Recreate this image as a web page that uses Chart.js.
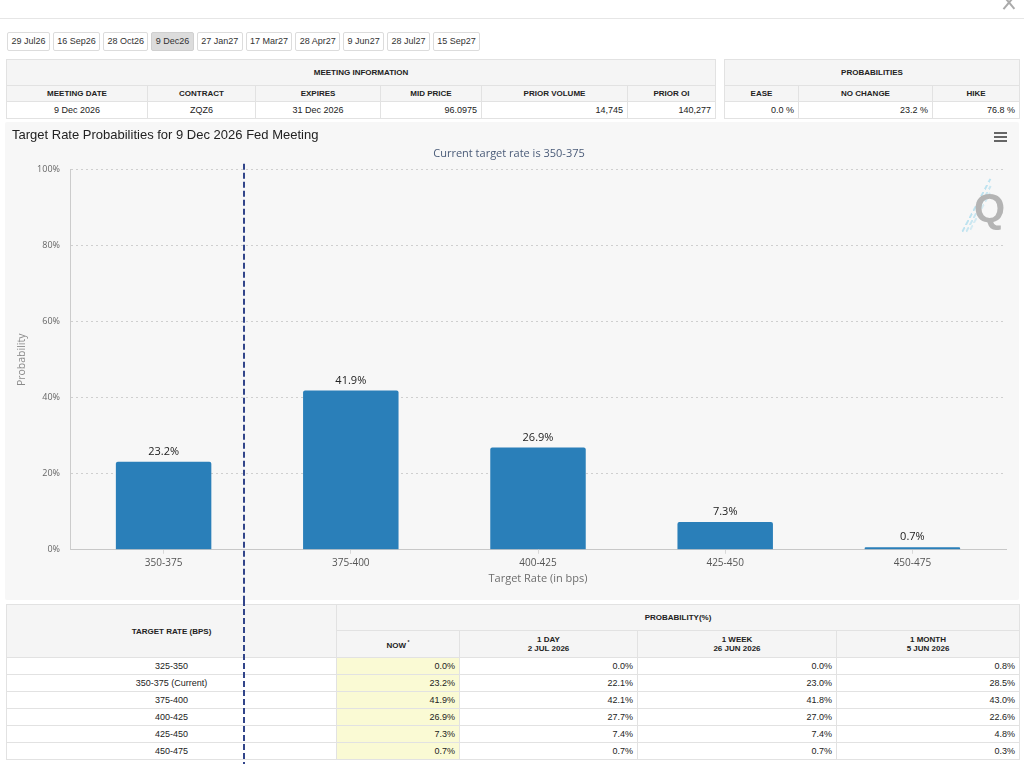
<!DOCTYPE html>
<html>
<head>
<meta charset="utf-8">
<script src="https://cdn.jsdelivr.net/npm/chart.js@4.4.1/dist/chart.umd.min.js"></script>
<style>
  html, body { margin:0; padding:0; background:#fff; width:1024px; height:764px; overflow:hidden; font-family: Arial, "Liberation Sans", sans-serif; color:#333; }
  .topline { position:absolute; left:0; top:18px; width:1024px; height:1px; background:#e6e6e6; }
  .close { position:absolute; left:1002px; top:-6px; width:14px; height:14px; }
  .close:before, .close:after { content:""; position:absolute; left:6px; top:0; width:1.5px; height:17px; background:#aaa; }
  .close:before { transform:rotate(40deg); }
  .close:after { transform:rotate(-40deg); }
  .tabs { position:absolute; left:7px; top:32px; display:flex; gap:3px; }
  .tab { line-height:17px; border:1px solid #dcdcdc; border-radius:2px; padding:0 3.4px; font-size:9px; color:#333; background:#fff; box-sizing:border-box; height:19px; }
  .tab.sel { background:#dcdcdc; border-color:#d0d0d0; }
  table { border-collapse:collapse; table-layout:fixed; position:absolute; font-family: Arial, "Liberation Sans", sans-serif; }
  td, th { border:1px solid #e2e2e2; padding:0 4px; font-size:9px; color:#222; overflow:hidden; white-space:nowrap; }
  th { font-weight:bold; font-size:8px; background:#f5f5f5; text-align:center; }
  td.c { text-align:center; }
  td.r { text-align:right; }
  td.now { background:#fafad4; }
  .chartbox { position:absolute; left:5px; top:122px; width:1014px; height:478px; background:#f7f7f7; border-radius:2px; }
  .menu { position:absolute; left:994px; top:132px; width:13px; height:2px; background:#666; box-shadow:0 4px 0 #666, 0 8px 0 #666; }
  .wm { position:absolute; left:974px; top:186px; font:bold 40px Arial, "Liberation Sans", sans-serif; color:#b4b4b4; }
  .streak { position:absolute; height:1.5px; background:repeating-linear-gradient(to right, #bde2ef 0 5px, transparent 5px 8px); transform:rotate(-62deg); transform-origin:left center; }
  .vline { position:absolute; width:2px; background:repeating-linear-gradient(to bottom, #32458a 0 6px, transparent 6px 9px); z-index:5; }
</style>
</head>
<body>
<div class="topline"></div>
<div class="close"></div>
<div class="tabs" id="tabs"></div>

<table id="meet" style="left:6px; top:59px; width:709px;">
  <colgroup><col style="width:141px"><col style="width:108px"><col style="width:125px"><col style="width:101px"><col style="width:146px"><col style="width:88px"></colgroup>
  <tr style="height:26px"><th colspan="6">MEETING INFORMATION</th></tr>
  <tr style="height:16px" id="meetHead"></tr>
  <tr style="height:17px" id="meetRow"></tr>
</table>

<table id="probs" style="left:724px; top:59px; width:295px;">
  <colgroup><col style="width:74px"><col style="width:134px"><col style="width:87px"></colgroup>
  <tr style="height:26px"><th colspan="3">PROBABILITIES</th></tr>
  <tr style="height:16px" id="probHead"></tr>
  <tr style="height:17px" id="probRow"></tr>
</table>

<div class="chartbox"><canvas id="c"></canvas></div>
<div class="menu"></div>
<div class="streak" style="left:962px; top:231px; width:60px;"></div>
<div class="streak" style="left:966px; top:231px; width:52px; opacity:.8"></div>
<div class="streak" style="left:970px; top:229px; width:42px; opacity:.6"></div>
<div class="wm">Q</div>

<table id="rates" style="left:6px; top:604px; width:1013px;">
  <colgroup><col style="width:330px"><col style="width:123px"><col style="width:178px"><col style="width:199px"><col style="width:183px"></colgroup>
  <tr style="height:26px"><th rowspan="2">TARGET RATE (BPS)</th><th colspan="4">PROBABILITY(%)</th></tr>
  <tr style="height:27px" id="rateHead"></tr>
</table>

<div class="vline" id="vline"></div>

<script>
// ---------- data ----------
const meetingTabs = ['29 Jul26','16 Sep26','28 Oct26','9 Dec26','27 Jan27','17 Mar27','28 Apr27','9 Jun27','28 Jul27','15 Sep27'];
const selectedTab = '9 Dec26';

const meetingHeaders = ['MEETING DATE','CONTRACT','EXPIRES','MID PRICE','PRIOR VOLUME','PRIOR OI'];
const meetingValues = ['9 Dec 2026','ZQZ6','31 Dec 2026','96.0975','14,745','140,277'];
const probHeaders = ['EASE','NO CHANGE','HIKE'];
const probValues = ['0.0 %','23.2 %','76.8 %'];

const chartTitle = 'Target Rate Probabilities for 9 Dec 2026 Fed Meeting';
const chartSubtitle = 'Current target rate is 350-375';
const categories = ['350-375','375-400','400-425','425-450','450-475'];
const probabilities = [23.2, 41.9, 26.9, 7.3, 0.7];
const yTickValues = [0, 20, 40, 60, 80, 100];
const currentLineValue = 0.43;

const periodHeaders = [['NOW', ''], ['1 DAY','2 JUL 2026'], ['1 WEEK','26 JUN 2026'], ['1 MONTH','5 JUN 2026']];
const tableRates = ['325-350','350-375 (Current)','375-400','400-425','425-450','450-475'];
const probNow    = [0.0, 23.2, 41.9, 26.9, 7.3, 0.7];
const prob1Day   = [0.0, 22.1, 42.1, 27.7, 7.4, 0.7];
const prob1Week  = [0.0, 23.0, 41.8, 27.0, 7.4, 0.7];
const prob1Month = [0.8, 28.5, 43.0, 22.6, 4.8, 0.3];

// ---------- html parts ----------
const tabs = document.getElementById('tabs');
meetingTabs.forEach(t => { const d = document.createElement('div'); d.className = 'tab' + (t === selectedTab ? ' sel' : ''); d.textContent = t; tabs.appendChild(d); });

document.getElementById('meetHead').innerHTML = meetingHeaders.map(h => '<th>' + h + '</th>').join('');
document.getElementById('meetRow').innerHTML = meetingValues.map((v, i) => '<td class="' + (i < 3 ? 'c' : 'r') + '">' + v + '</td>').join('');
document.getElementById('probHead').innerHTML = probHeaders.map(h => '<th>' + h + '</th>').join('');
document.getElementById('probRow').innerHTML = probValues.map(v => '<td class="r">' + v + '</td>').join('');

document.getElementById('rateHead').innerHTML = periodHeaders.map((p, i) =>
  '<th>' + p[0] + (i === 0 ? '<sup style="font-size:5px"> *</sup>' : '<br>' + p[1]) + '</th>').join('');
const rates = document.getElementById('rates');
tableRates.forEach((r, i) => {
  const tr = document.createElement('tr');
  tr.style.height = '17px';
  tr.innerHTML = '<td class="c">' + r + '</td>' +
    '<td class="r now">' + probNow[i].toFixed(1) + '%</td>' +
    '<td class="r">' + prob1Day[i].toFixed(1) + '%</td>' +
    '<td class="r">' + prob1Week[i].toFixed(1) + '%</td>' +
    '<td class="r">' + prob1Month[i].toFixed(1) + '%</td>';
  rates.appendChild(tr);
});

// ---------- chart ----------
const tickFont = '"Open Sans", "DejaVu Sans", sans-serif';

const dataLabels = {
  id: 'dataLabels',
  afterDatasetsDraw(chart) {
    const ctx = chart.ctx;
    const meta = chart.getDatasetMeta(0);
    ctx.save();
    ctx.font = '11px ' + tickFont;
    ctx.fillStyle = '#222';
    ctx.textAlign = 'center';
    ctx.textBaseline = 'middle';
    meta.data.forEach((bar, i) => {
      ctx.fillText(probabilities[i].toFixed(1) + '%', bar.x, bar.y - 10);
    });
    ctx.restore();
  }
};

const currentLine = {
  id: 'currentLine',
  afterDatasetsDraw(chart) {
    const xs = chart.scales.x;
    const p0 = xs.getPixelForValue(0), p1 = xs.getPixelForValue(1);
    const x = Math.round(p0 + currentLineValue * (p1 - p0));
    const ctx = chart.ctx;
    ctx.save();
    ctx.strokeStyle = '#32458a';
    ctx.lineWidth = 2;
    ctx.setLineDash([6, 3]);
    ctx.beginPath();
    ctx.moveTo(x, chart.chartArea.top - 6);
    ctx.lineTo(x, chart.height);
    ctx.stroke();
    ctx.restore();
    const box = chart.canvas.parentNode;
    const v = document.getElementById('vline');
    v.style.left = (box.offsetLeft + x - 1) + 'px';
    v.style.top = (box.offsetTop + chart.height) + 'px';
    v.style.height = (764 - box.offsetTop - chart.height) + 'px';
  }
};

new Chart(document.getElementById('c'), {
  type: 'bar',
  data: {
    labels: categories,
    datasets: [{
      data: probabilities,
      backgroundColor: '#2a7fb9',
      borderRadius: { topLeft: 2, topRight: 2 },
      borderSkipped: 'bottom',
      barPercentage: 0.51,
      categoryPercentage: 1.0
    }]
  },
  options: {
    responsive: true,
    maintainAspectRatio: false,
    animation: false,
    events: [],
    layout: { padding: { left: 7, right: 13, top: 0, bottom: 15 } },
    plugins: {
      legend: { display: false },
      tooltip: { enabled: false },
      title: {
        display: true, text: chartTitle, align: 'start', color: '#222',
        font: { family: 'Arial, "Liberation Sans", sans-serif', size: 13, weight: 'normal' },
        padding: { top: 6, bottom: 0 }
      },
      subtitle: {
        display: true, text: chartSubtitle, color: '#4a5b78',
        font: { family: tickFont, size: 11 },
        padding: { top: 4, bottom: 9 }
      }
    },
    scales: {
      x: {
        offset: true,
        grid: { display: true, drawOnChartArea: false, offset: false, drawTicks: true, tickLength: 4, tickColor: '#d8d8d8', color: '#d8d8d8' },
        border: { display: true, color: '#c8c8c8', width: 1 },
        ticks: { color: '#555', font: { family: tickFont, size: 10 }, padding: 3 },
        title: { display: true, text: 'Target Rate (in bps)', color: '#6e6e6e', font: { family: tickFont, size: 11 }, padding: { top: 0, bottom: 0 } }
      },
      y: {
        min: 0, max: 100,
        afterFit(scale) { scale.width = 58; },
        afterBuildTicks(scale) { scale.ticks = yTickValues.map(v => ({ value: v })); },
        grid: { color: '#cfcfcf', lineWidth: 1, drawTicks: false },
        border: { display: true, color: '#cccccc', width: 1, dash: [2, 3] },
        ticks: { color: '#666', font: { family: tickFont, size: 9 }, padding: 10, callback: v => v + '%' },
        title: { display: true, text: 'Probability', color: '#8a8a8a', font: { family: tickFont, size: 10.5 }, padding: { top: 4, bottom: 0 } }
      }
    }
  },
  plugins: [dataLabels, currentLine]
});
</script>
</body>
</html>
